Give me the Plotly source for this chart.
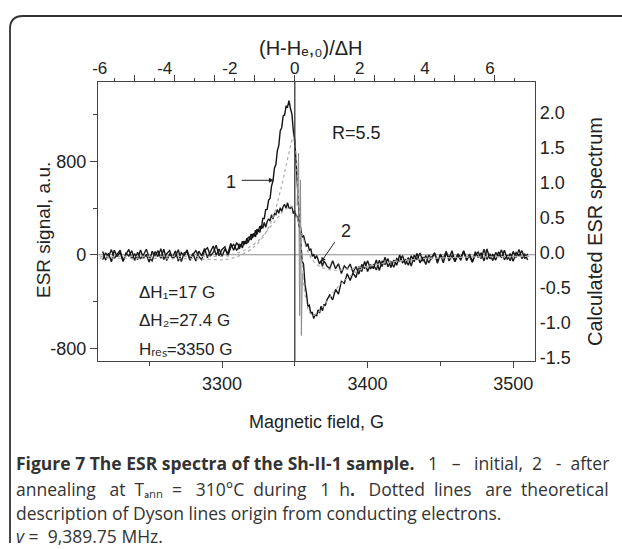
import numpy as np
import plotly.graph_objects as go

# ---------------- data ----------------
# magnetic field grids, G
field_base = np.arange(3218, 3311, 2)   # 3218 ... 3310
field_mid = np.arange(3311, 3373, 1)    # 3311 ... 3372
field_tail = np.arange(3374, 3511, 2)   # 3374 ... 3510

# spectrum 1 (initial), ESR signal a.u.
sig1_base = [27, -46, 13, -60, 39, -17, 22, -53, 4, 46, -35, 9, -42, 41, -27, 0,
             -63, 30, -13, 35, -31, 48, -49, 6, -24, 33, -55, 19, -8, 42, -40, 11,
             -54, 31, -9, 53, -25, 23, 75, -4, 49, -14, 49, 9, 97, 39, 101]
sig1_mid = [88, 50, 89, 57, 117, 93, 142, 105, 140, 178, 144, 184, 152, 219, 203, 245,
            222, 310, 310, 386, 388, 468, 481, 587, 631, 741, 772, 891, 934, 1061, 1087,
            1188, 1196, 1271, 1265, 1319, 1251, 1205, 1059, 974, 763, 583, 324, 126, -52,
            -81, -255, -330, -443, -433, -506, -490, -546, -508, -524, -471, -499, -440,
            -480, -428, -433, -388]
sig1_tail = [-344, -386, -296, -337, -227, -244, -163, -220, -157, -195, -102, -143, -57,
             -143, -84, -119, -44, -134, -57, -82, -33, -109, -45, -90, -2, -67, -42, -90,
             -9, -60, 12, -69, -20, -83, -1, -37, 17, -53, -3, -68, 14, -28, 34, -59, -3,
             -47, 34, -36, -12, -65, 26, -25, 17, -53, 49, -34, 1, -46, 25, -26, 38, -40,
             11, -55, 19, -9, 35, -33, 8]

# spectrum 2 (after annealing), ESR signal a.u.
sig2_base = [-43, 17, -20, 44, -32, 3, 40, -57, 12, -11, 34, -49, 21, -36, -2, 47,
             -25, -52, 28, -16, 52, -41, 9, 36, -30, -14, 43, -59, 15, 26, -48, 2,
             35, -15, -42, 36, 60, -9, 20, 81, -8, 46, 68, -12, 65, 89, 40]
sig2_mid = [51, 92, 76, 117, 83, 116, 93, 149, 151, 126, 174, 163, 210, 173, 214, 192,
            252, 227, 277, 234, 282, 308, 287, 343, 305, 352, 343, 388, 355, 403, 370,
            413, 431, 398, 446, 401, 399, 414, 351, 377, 326, 329, 240, 233, 150, 165,
            117, 70, 95, 36, 53, -13, 5, -34, -7, -54, -79, -49, -99, -55, -70, -97]
sig2_tail = [-117, -51, -119, -77, -160, -94, -123, -79, -153, -101, -166, -83, -118, -52,
             -121, -86, -130, -48, -100, -21, -102, -55, -107, -32, -55, -6, -83, -24, -96,
             -4, -43, 15, -56, -7, -70, -21, 13, -74, 6, -37, 31, -53, -6, -58, 9, -23, 30,
             -50, 6, -59, -3, 24, -33, 47, -39, 8, -50, 20, -18, 42, -44, -3, -51, 29, -23,
             46, -32, 5, -44]

# narrow line near the centre (thin grey trace)
narrow_field = [3351.6, 3352.6, 3353.3, 3353.9, 3354.5, 3355.2]
narrow_sig = [420, 868, -520, 640, -690, -160]

# calculated Dyson spectra (right axis)
calc_field = [3216, 3240, 3260, 3280, 3290, 3300, 3305, 3310, 3315, 3320,
              3324, 3328, 3331, 3334, 3337, 3340, 3342, 3344, 3346, 3347,
              3348, 3349, 3350, 3351, 3352, 3353, 3354, 3355, 3356, 3357,
              3358, 3359, 3360, 3361, 3362, 3363, 3364, 3366, 3368, 3370,
              3373, 3376, 3380, 3385, 3390, 3395, 3400, 3410, 3420, 3440,
              3470, 3512]
calc1 = [-0.075, -0.075, -0.078, -0.085, -0.095, -0.10, -0.09, -0.06, -0.01, 0.05,
         0.12, 0.22, 0.32, 0.45, 0.63, 0.86, 1.05, 1.25, 1.45, 1.55,
         1.62, 1.64, 1.55, 1.35, 1.0, 0.6, 0.2, -0.15, -0.42, -0.6,
         -0.72, -0.8, -0.85, -0.88, -0.9, -0.9, -0.89, -0.86, -0.81, -0.75,
         -0.66, -0.58, -0.48, -0.38, -0.3, -0.24, -0.2, -0.15, -0.12, -0.08,
         -0.06, -0.05]
calc2 = [-0.05, -0.05, -0.055, -0.06, -0.06, -0.05, -0.035, -0.01, 0.03, 0.09,
         0.15, 0.24, 0.31, 0.39, 0.47, 0.55, 0.6, 0.63, 0.66, 0.67,
         0.66, 0.64, 0.6, 0.55, 0.48, 0.41, 0.33, 0.25, 0.18, 0.12,
         0.06, 0.01, -0.03, -0.07, -0.1, -0.13, -0.15, -0.18, -0.21, -0.22,
         -0.24, -0.25, -0.25, -0.24, -0.23, -0.21, -0.19, -0.15, -0.12, -0.08,
         -0.06, -0.05]

# axis ticks
left_ticks = [-800, 0, 800]
left_minor = [-400, 400, 1200]
right_ticks = [-1.5, -1.0, -0.5, 0.0, 0.5, 1.0, 1.5, 2.0]
bottom_ticks = [3300, 3400, 3500]
bottom_minor = [3250, 3350, 3450]
top_ticks = [-6, -4, -2, 0, 2, 4, 6]
H_res = 3350

field = np.concatenate([field_base, field_mid, field_tail])
sig1 = sig1_base + sig1_mid + sig1_tail
sig2 = sig2_base + sig2_mid + sig2_tail

# ---------------- figure ----------------
W, H = 622, 549
ML, MR, MT, MB = 98, 87, 82, 188
PW, PH = W - ML - MR, H - MT - MB


def pxx(x):
    return (x - ML) / PW


def pyy(y):
    return (H - MB - y) / PH


def hyph(v, fmt="{:g}"):
    return fmt.format(v).replace("\u2212", "-")


FONT = "Liberation Sans, Arial, sans-serif"
INK = "#222222"
AX = "#444444"

fig = go.Figure()
fig.add_trace(go.Scatter(x=calc_field, y=calc1, yaxis="y2", mode="lines",
                         line=dict(color="#ababab", width=1.2, dash="dot"),
                         hoverinfo="skip", showlegend=False))
fig.add_trace(go.Scatter(x=calc_field, y=calc2, yaxis="y2", mode="lines",
                         line=dict(color="#ababab", width=1.2, dash="dot"),
                         hoverinfo="skip", showlegend=False))
fig.add_trace(go.Scatter(x=field, y=sig2, mode="lines",
                         line=dict(color="#1c1c1c", width=1.4),
                         showlegend=False))
fig.add_trace(go.Scatter(x=field, y=sig1, mode="lines",
                         line=dict(color="#141414", width=1.4),
                         showlegend=False))
fig.add_trace(go.Scatter(x=narrow_field, y=narrow_sig, mode="lines",
                         line=dict(color="#8a8a8a", width=1),
                         showlegend=False))
# invisible traces so the top axes are drawn
fig.add_trace(go.Scatter(x=[0], y=[0], xaxis="x2", mode="markers",
                         marker=dict(opacity=0), hoverinfo="skip", showlegend=False))
fig.add_trace(go.Scatter(x=[H_res], y=[0], xaxis="x3", mode="markers",
                         marker=dict(opacity=0), hoverinfo="skip", showlegend=False))

xr = [3214.8, 3515.0]
U_PER_G = 1.455 / 32.5          # top-axis units per gauss
ur = [(xr[0] - H_res) * U_PER_G, (xr[1] - H_res) * U_PER_G]
top_long = [H_res + 27.5 * k for k in range(-4, 6)]
top_short = [H_res + 27.5 * k + 13.75 for k in range(-5, 6)]

fig.update_layout(
    width=W, height=H,
    margin=dict(l=ML, r=MR, t=MT, b=MB, pad=0),
    paper_bgcolor="white", plot_bgcolor="white",
    font=dict(family=FONT, color=INK, size=17),
    showlegend=False,
    xaxis=dict(range=xr, tickvals=bottom_ticks, ticktext=[hyph(v) for v in bottom_ticks],
               ticks="outside", ticklen=6,
               tickwidth=1, tickcolor=AX, showline=True, linecolor=AX, linewidth=1.2,
               showgrid=False, zeroline=False, tickfont=dict(size=18),
               minor=dict(tickvals=bottom_minor, ticks="outside", ticklen=4,
                          tickcolor=AX, tickwidth=1, showgrid=False)),
    xaxis2=dict(overlaying="x", side="top", anchor="y", range=ur, tickvals=top_ticks,
                ticktext=[hyph(v) for v in top_ticks],
                ticks="", showline=True, linecolor=AX, linewidth=1.2, showgrid=False,
                zeroline=False, tickfont=dict(size=17)),
    xaxis3=dict(overlaying="x", side="top", anchor="y", range=xr, tickvals=top_long,
                ticks="outside", ticklen=6, tickcolor=AX, tickwidth=1,
                showticklabels=False, showline=False, showgrid=False, zeroline=False,
                minor=dict(tickvals=top_short, ticks="outside", ticklen=3,
                           tickcolor=AX, tickwidth=1, showgrid=False)),
    yaxis=dict(range=[-909, 1478], tickvals=left_ticks, ticktext=[hyph(v) for v in left_ticks],
               ticks="outside", ticklen=7,
               tickwidth=1, tickcolor=AX, showline=True, linecolor=AX, linewidth=1.2,
               showgrid=False, zeroline=False, tickfont=dict(size=18),
               minor=dict(tickvals=left_minor, ticks="outside", ticklen=4,
                          tickcolor=AX, tickwidth=1, showgrid=False)),
    yaxis2=dict(overlaying="y", side="right", anchor="x", range=[-1.548, 2.4435],
                tickvals=right_ticks, ticktext=[f"{v:.1f}" for v in right_ticks],
                ticks="", showline=True, linecolor=AX, linewidth=1.2, showgrid=False,
                zeroline=False, tickfont=dict(size=18)),
)

# reference lines
fig.add_shape(type="line", xref="paper", yref="y", x0=0, x1=1, y0=0, y1=0,
              line=dict(color="#8c8c8c", width=1), layer="below")
fig.add_shape(type="line", xref="x", yref="paper", x0=H_res, x1=H_res, y0=0, y1=1,
              line=dict(color="#3a3a3a", width=1.3))

# rounded frame (top and left edges)
x0, yt, yb, xr_ = pxx(10), pyy(16), pyy(543), pxx(640)
rx, ry = 13 / PW, 13 / PH
fig.add_shape(type="path", xref="paper", yref="paper",
              path=f"M {x0},{yb} L {x0},{yt - ry} Q {x0},{yt} {x0 + rx},{yt} L {xr_},{yt}",
              line=dict(color="#333333", width=1.8))

ann = []


def text(x, y, s, size, **kw):
    d = dict(x=pxx(x), y=pyy(y), xref="paper", yref="paper", text=s, showarrow=False,
             font=dict(size=size, family=kw.pop("family", FONT), color=kw.pop("color", INK)),
             xanchor=kw.pop("xanchor", "center"), yanchor=kw.pop("yanchor", "middle"))
    d.update(kw)
    ann.append(d)


# axis titles
text(311, 48, "(H-H\u2091,\u2080)/ΔH", 20)
text(43, 230, "ESR signal, a.u.", 19, textangle=-90)
text(595, 232, "Calculated ESR spectrum", 20, textangle=-90)
text(316, 422, "Magnetic field, G", 18)

# in-plot labels (data coordinates)
ann.append(dict(x=3392.6, y=1040, text="R=5.5", showarrow=False,
                font=dict(size=18, family=FONT, color=INK)))
ann.append(dict(x=3306, y=620, text="1", showarrow=False,
                font=dict(size=18, family=FONT, color=INK)))
ann.append(dict(x=3335.6, y=637, ax=3310.8, ay=637, axref="x", ayref="y", text=" ",
                showarrow=True, arrowhead=2, arrowsize=1, arrowwidth=1, arrowcolor=INK))
ann.append(dict(x=3385, y=201, text="2", showarrow=False,
                font=dict(size=18, family=FONT, color=INK)))
ann.append(dict(x=3367.9, y=-64, ax=3380.2, ay=158, axref="x", ayref="y", text=" ",
                showarrow=True, arrowhead=2, arrowsize=1, arrowwidth=1, arrowcolor=INK))
for yv, s in [(-321, "ΔH\u2081=17 G"), (-560, "ΔH\u2082=27.4 G"),
              (-809, "H\u1d63\u2091\u209b=3350 G")]:
    ann.append(dict(x=3241.4, y=yv, text=s, showarrow=False, xanchor="left",
                    font=dict(size=17, family=FONT, color=INK)))

# caption (justified lines emulated with extra no-break spaces)
CAP = "Open Sans, Lato, sans-serif"


def justify(words, extra):
    out = words[0]
    for n, w in zip(extra, words[1:]):
        out += " " + "\u00a0" * n + w
    return out


line1 = justify(["<b>Figure", "7", "The", "ESR", "spectra", "of", "the", "Sh-II-1",
                 "sample.</b>", "1", "–", "initial,", "2", "-", "after"],
                [0, 0, 0, 0, 0, 0, 0, 0, 2, 2, 2, 1, 2, 1])
line2 = justify(["annealing", "at", "T\u2090\u2099\u2099", "=", "310°C", "during", "1",
                 "h<b>.</b>", "Dotted", "lines", "are", "theoretical"],
                [2, 1, 1, 2, 1, 2, 1, 2, 1, 2, 1])
cap_lines = [
    (463, line1),
    (489, line2),
    (513, "description of Dyson lines origin from conducting electrons."),
    (536, "<i>v</i> =\u00a0 9,389.75 MHz."),
]
for yv, s in cap_lines:
    text(14, yv, s, 17.5, family=CAP, color="#333333", xanchor="left")

fig.update_layout(annotations=ann)
fig.write_html("out.html")
